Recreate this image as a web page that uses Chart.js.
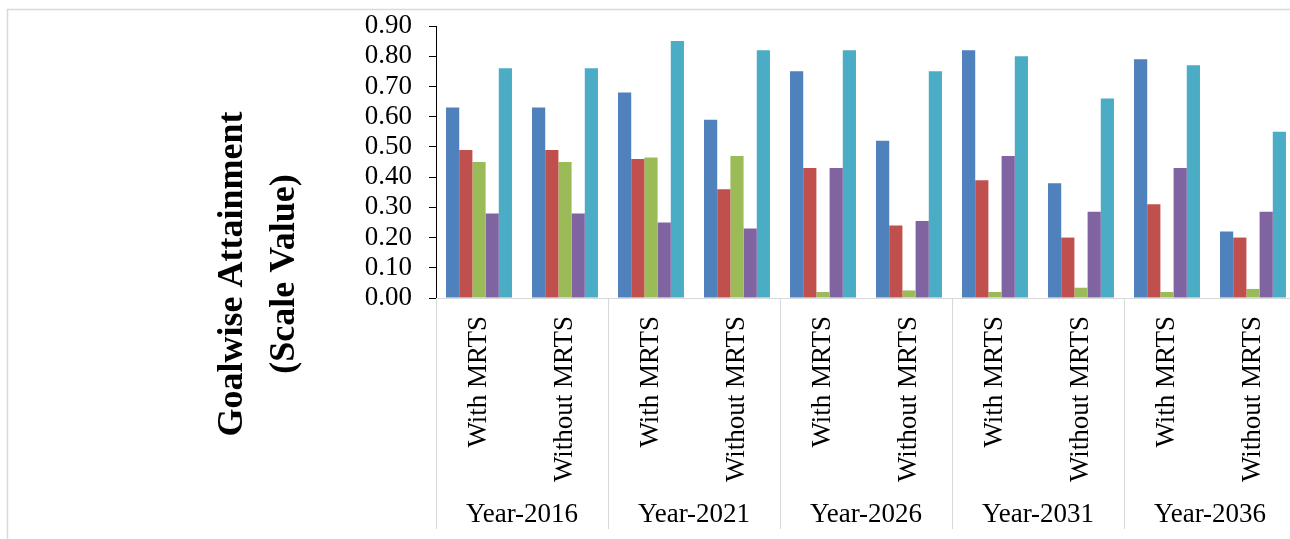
<!DOCTYPE html>
<html>
<head>
<meta charset="utf-8">
<script src="https://cdn.jsdelivr.net/npm/chart.js@4.4.0/dist/chart.umd.min.js"></script>
<style>
	html, body { margin: 0; padding: 0; background: #fff; overflow: hidden; }
	#wrap { width: 1296px; height: 539px; position: relative; }
</style>
</head>
<body>
<div id="wrap"><canvas id="grafico"></canvas></div>
<script>
// categorias e anos (eixo x em dois niveis)
const categorias = ['With MRTS', 'Without MRTS', 'With MRTS', 'Without MRTS', 'With MRTS',
	'Without MRTS', 'With MRTS', 'Without MRTS', 'With MRTS', 'Without MRTS'];
const anos = ['Year-2016', 'Year-2021', 'Year-2026', 'Year-2031', 'Year-2036'];

// valores
const goal1 = [0.63, 0.63, 0.68, 0.59, 0.75, 0.52, 0.82, 0.38, 0.79, 0.22];
const goal2 = [0.49, 0.49, 0.46, 0.36, 0.43, 0.24, 0.39, 0.20, 0.31, 0.20];
const goal3 = [0.45, 0.45, 0.465, 0.47, 0.02, 0.025, 0.02, 0.034, 0.02, 0.03];
const goal4 = [0.28, 0.28, 0.25, 0.23, 0.43, 0.255, 0.47, 0.285, 0.43, 0.285];
const goal5 = [0.76, 0.76, 0.85, 0.82, 0.82, 0.75, 0.80, 0.66, 0.77, 0.55];

const tituloY = ['Goalwise Attainment', '(Scale Value)'];

const fonte = '"Liberation Serif", "Times New Roman", serif';
const cinza = '#d9d9d9';

// moldura, titulo do eixo y, separadores e rotulos dos anos
const extras = {
	id: 'extras',
	beforeDraw(chart) {
		const ctx = chart.ctx;
		ctx.save();
		ctx.strokeStyle = cinza;
		ctx.lineWidth = 1.5;
		ctx.strokeRect(7.5, 9.5, chart.width + 20, chart.height + 20);
		ctx.restore();
	},
	afterDraw(chart) {
		const ctx = chart.ctx;
		const x = chart.scales.x;
		const area = chart.chartArea;
		const meio = (x.getPixelForValue(1) - x.getPixelForValue(0)) / 2;

		ctx.save();
		ctx.strokeStyle = cinza;
		ctx.lineWidth = 1;
		for (let g = 0; g <= anos.length; g++) {
			const px = Math.round(x.getPixelForValue(g * 2) - meio) + 0.5;
			ctx.beginPath();
			ctx.moveTo(px, area.bottom);
			ctx.lineTo(px, 529);
			ctx.stroke();
		}

		ctx.fillStyle = '#000';
		ctx.font = '27px ' + fonte;
		ctx.textAlign = 'center';
		ctx.textBaseline = 'alphabetic';
		anos.forEach((ano, g) => {
			const cx = (x.getPixelForValue(g * 2) + x.getPixelForValue(g * 2 + 1)) / 2;
			ctx.fillText(ano, cx, 522);
		});

		ctx.font = 'bold 36px ' + fonte;
		ctx.textBaseline = 'middle';
		ctx.translate(0, 274);
		ctx.rotate(-Math.PI / 2);
		ctx.fillText(tituloY[0], 0, 233);
		ctx.fillText(tituloY[1], 0, 285);
		ctx.restore();
	}
};

const ctx = document.getElementById('grafico').getContext('2d');
new Chart(ctx, {
	type: 'bar',
	data: {
		labels: categorias,
		datasets: [
			{ label: 'Goal 1', data: goal1, backgroundColor: '#4F81BD' },
			{ label: 'Goal 2', data: goal2, backgroundColor: '#C0504D' },
			{ label: 'Goal 3', data: goal3, backgroundColor: '#9BBB59' },
			{ label: 'Goal 4', data: goal4, backgroundColor: '#8064A2' },
			{ label: 'Goal 5', data: goal5, backgroundColor: '#4BACC6' }
		]
	},
	options: {
		responsive: true,
		maintainAspectRatio: false,
		animation: false,
		layout: { padding: { top: 26, left: 0, right: 0, bottom: 0 } },
		datasets: {
			bar: { categoryPercentage: 0.767, barPercentage: 1 }
		},
		plugins: {
			legend: { display: false },
			tooltip: { enabled: false }
		},
		scales: {
			x: {
				grid: { display: false, drawTicks: false },
				border: { display: true, color: cinza, width: 1 },
				ticks: {
					autoSkip: false,
					minRotation: 90,
					maxRotation: 90,
					padding: 18,
					color: '#000',
					font: { family: fonte, size: 27 }
				},
				afterFit: function (scale) {
					scale.height = 241;
					scale.paddingLeft = 0;
					scale.paddingRight = 0;
				}
			},
			y: {
				min: 0,
				max: 0.9,
				grid: { drawOnChartArea: false, drawTicks: true, tickLength: 7, color: '#000' },
				border: { display: true, color: '#000', width: 1 },
				ticks: {
					stepSize: 0.1,
					autoSkip: false,
					padding: 17,
					color: '#000',
					font: { family: fonte, size: 27, lineHeight: 1 },
					callback: function (v) { return v.toFixed(2); }
				},
				afterFit: function (scale) {
					scale.width = 436;
					scale.paddingTop = 0;
					scale.paddingBottom = 0;
				}
			}
		}
	},
	plugins: [extras]
});
</script>
</body>
</html>
